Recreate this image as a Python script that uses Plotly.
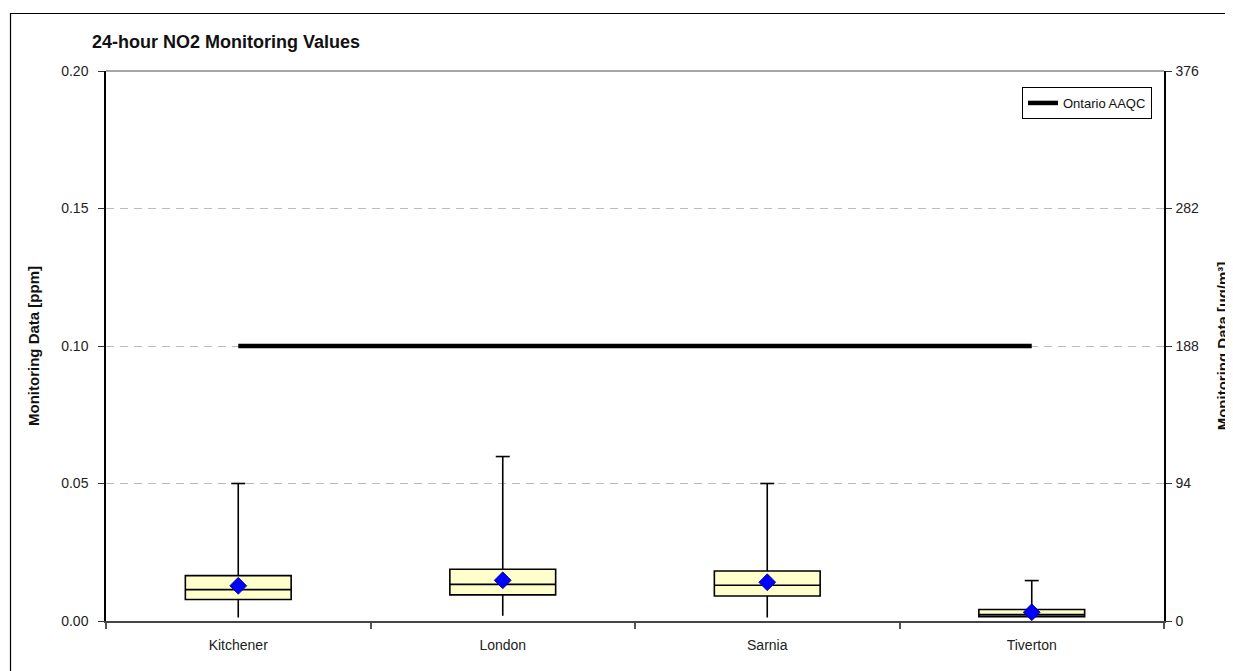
import plotly.graph_objects as go

categories = ["Kitchener", "London", "Sarnia", "Tiverton"]
lower_whisker = [0.0013, 0.0019, 0.0013, 0.0008]
q1_vals = [0.0078, 0.0095, 0.0091, 0.0016]
median_vals = [0.0114, 0.0133, 0.0130, 0.0023]
q3_vals = [0.0165, 0.0188, 0.0182, 0.0042]
upper_whisker = [0.0500, 0.0598, 0.0500, 0.0147]
mean_vals = [0.0128, 0.0148, 0.0141, 0.0032]
aaqc_ppm = [0.10, 0.10, 0.10, 0.10]

left_ticks = [0.0, 0.05, 0.10, 0.15, 0.20]
left_labels = ["0.00", "0.05", "0.10", "0.15", "0.20"]
right_ticks = [0, 94, 188, 282, 376]

FONT = "Liberation Sans Narrow, Arial Narrow, Liberation Sans, Arial, sans-serif"
OFF = 8  # page body margin
W, H = 1233, 671
# plot area in window pixels
WL, WR, WT, WB = 106, 1164, 71, 621
L, R, T, B = WL - OFF, WR - OFF, WT - OFF, WB - OFF

fig = go.Figure()

fig.add_trace(go.Box(
    x=categories, q1=q1_vals, median=median_vals, q3=q3_vals,
    lowerfence=lower_whisker, upperfence=upper_whisker,
    fillcolor="#FFFFCC", line=dict(color="black", width=1.6),
    width=0.4, whiskerwidth=0, boxpoints=False, showlegend=False,
    hoverinfo="skip", yaxis="y",
))

# whisker caps
fig.add_trace(go.Scatter(
    x=categories, y=upper_whisker, mode="markers",
    marker=dict(symbol="line-ew", size=10, line=dict(color="black", width=1.6)),
    showlegend=False, hoverinfo="skip",
))

# AAQC line
fig.add_trace(go.Scatter(
    x=categories, y=aaqc_ppm, mode="lines", name="Ontario AAQC",
    line=dict(color="black", width=4.5), showlegend=True, hoverinfo="skip",
))

# means
fig.add_trace(go.Scatter(
    x=categories, y=mean_vals, mode="markers",
    marker=dict(symbol="diamond", size=13, color="#0000FF",
                line=dict(color="#000080", width=0.8)),
    showlegend=False, hoverinfo="skip",
))

# dummy trace for right axis
fig.add_trace(go.Scatter(
    x=[categories[0]], y=[0], yaxis="y2", mode="markers",
    marker=dict(opacity=0), showlegend=False, hoverinfo="skip",
))


def px_x(xw):
    return (xw - OFF - L) / (R - L)


def px_y(yw):
    return (B - (yw - OFF)) / (B - T)


fig.update_layout(
    width=W, height=H,
    template="none",
    paper_bgcolor="white", plot_bgcolor="white",
    margin=dict(l=L, r=W - R, t=T, b=H - B, pad=0),
    font=dict(family=FONT, size=14, color="#222222"),
    title=dict(text="<b>24-hour NO2 Monitoring Values</b>",
               font=dict(family=FONT, size=18, color="#111111"),
               x=(92 - OFF) / W, xanchor="left", xref="container",
               y=1 - (42 - OFF) / H, yanchor="middle", yref="container"),
    xaxis=dict(
        type="category", categoryorder="array", categoryarray=categories,
        range=[-0.5, 3.5], tickson="boundaries", ticks="outside", ticklen=6,
        tickcolor="#555555", tickwidth=1.5, ticklabelstandoff=10,
        showline=True, linecolor="#444444", linewidth=2,
        showgrid=False, zeroline=False, automargin=False,
        tickfont=dict(family=FONT, size=14, color="#222222"),
    ),
    yaxis=dict(
        range=[0, 0.20], tickvals=left_ticks, ticktext=left_labels,
        ticks="outside", ticklen=6, tickcolor="#333333", ticklabelstandoff=7,
        showline=True, linecolor="black", linewidth=1.5,
        showgrid=True, gridcolor="#BBBBBB", griddash="8px,6px", gridwidth=1,
        zeroline=False, automargin=False,
        title=dict(text="<b>Monitoring Data [ppm]</b>", standoff=18,
                   font=dict(family=FONT, size=15, color="#111111")),
        tickfont=dict(family=FONT, size=14, color="#222222"),
    ),
    yaxis2=dict(
        overlaying="y", side="right", range=[0, 376], tickvals=right_ticks,
        ticks="outside", ticklen=6, tickcolor="#333333", ticklabelstandoff=1,
        showline=True, linecolor="black", linewidth=1.5,
        showgrid=False, zeroline=False, automargin=False,
        title=dict(text="<b>Monitoring Data [µg/m³]</b>", standoff=19,
                   font=dict(family=FONT, size=15, color="#111111")),
        tickfont=dict(family=FONT, size=14, color="#222222"),
    ),
    legend=dict(
        x=px_x(1022), y=px_y(87), xanchor="left", yanchor="top",
        bgcolor="white", bordercolor="black", borderwidth=1,
        font=dict(family=FONT, size=13, color="#111111"),
        itemwidth=30, tracegroupgap=0,
    ),
    shapes=[
        # top border of plot area
        dict(type="line", xref="paper", yref="paper", x0=0, x1=1, y0=1, y1=1,
             line=dict(color="#888888", width=1.5)),
        # outer chart border
        dict(type="rect", xref="paper", yref="paper",
             x0=px_x(10.5), x1=px_x(1260), y0=px_y(13.5), y1=px_y(700),
             line=dict(color="black", width=1.2), layer="below"),
    ],
)

fig.write_html("out.html")
